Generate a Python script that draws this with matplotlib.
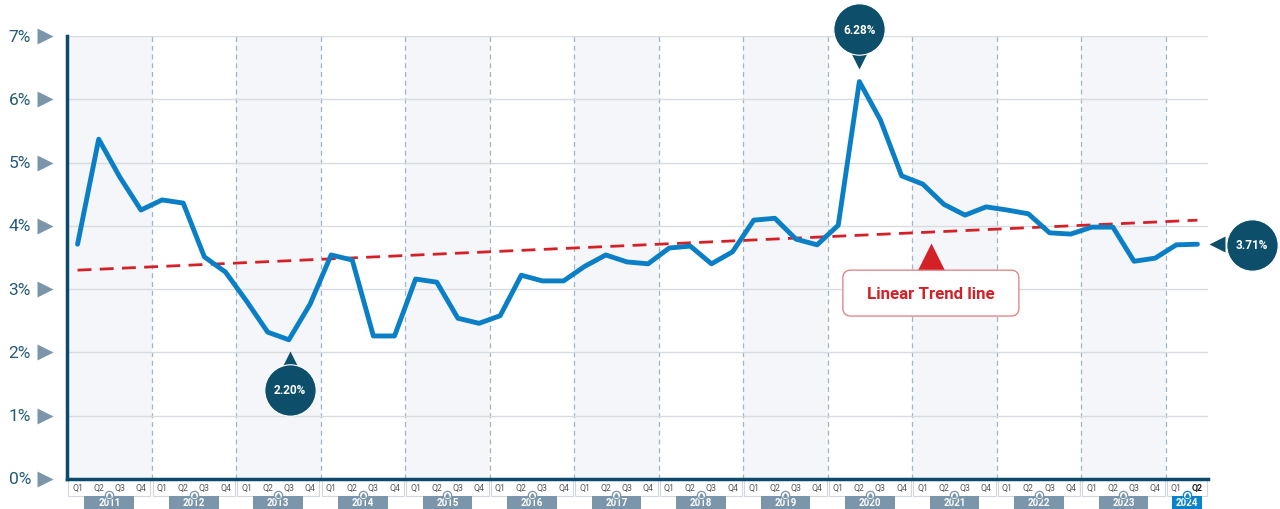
import numpy as np
import matplotlib
matplotlib.use('Agg')
import matplotlib.pyplot as plt
from matplotlib.patches import Rectangle, FancyBboxPatch
from matplotlib.transforms import blended_transform_factory, offset_copy

plt.rcParams['font.family'] = ['Roboto', 'DejaVu Sans']

# quarterly values (%), 2011 Q1 .. 2024 Q2
years = [2011, 2012, 2013, 2014, 2015, 2016, 2017, 2018, 2019, 2020, 2021, 2022, 2023, 2024]
quarters = ['Q1', 'Q2', 'Q3', 'Q4']
values = [
    3.71, 5.37, 4.77, 4.25,
    4.41, 4.36, 3.51, 3.27,
    2.81, 2.32, 2.20, 2.76,
    3.54, 3.46, 2.26, 2.26,
    3.16, 3.11, 2.54, 2.46,
    2.58, 3.22, 3.13, 3.13,
    3.36, 3.54, 3.43, 3.40,
    3.65, 3.68, 3.40, 3.59,
    4.09, 4.12, 3.79, 3.70,
    4.01, 6.28, 5.67, 4.79,
    4.66, 4.34, 4.17, 4.30,
    4.25, 4.19, 3.89, 3.87,
    3.98, 3.98, 3.44, 3.49,
    3.70, 3.71,
]
y_ticks = [0, 1, 2, 3, 4, 5, 6, 7]
trend_start, trend_end = 3.30, 4.09

navy = '#0b4a6c'
blue = '#0a7fc6'
red = '#d42128'
grey_blue = '#7b96ab'
bubble = '#0d4f6b'

x = np.arange(len(values))
fig = plt.figure(figsize=(12.8, 5.1), dpi=100)
ax = fig.add_axes([67 / 1280, 30 / 510, 1141 / 1280, 443 / 510])
ax.set_xlim(-0.5, len(values) - 0.5)
ax.set_ylim(0, 7)

# alternating year bands and dashed separators
for i, yr in enumerate(years):
    x0 = i * 4 - 0.5
    if i % 2 == 0 and yr != 2024:
        ax.axvspan(x0, x0 + 4, color='#f4f6f9', zorder=0, lw=0)
    if i > 0:
        ax.axvline(x0, color='#9fb5c8', lw=0.9, ls=(0, (4, 3)), zorder=1)

for t in y_ticks[1:]:
    ax.axhline(t, color='#d8dce1', lw=1, zorder=1)

# trend line
ax.plot([x[0], x[-1]], [trend_start, trend_end], color=red, lw=2, ls=(0, (5, 3)), zorder=3)
# data line
ax.plot(x, values, color=blue, lw=3.5, solid_joinstyle='round', solid_capstyle='round', zorder=4)

for s in ['top', 'right']:
    ax.spines[s].set_visible(False)
ax.spines['left'].set_color(navy)
ax.spines['left'].set_linewidth(2.5)
ax.spines['bottom'].set_color(navy)
ax.spines['bottom'].set_linewidth(2.5)
ax.set_xticks([])
ax.set_yticks([])

# y labels with triangles
ty = blended_transform_factory(ax.transAxes, ax.transData)
for t in y_ticks:
    ax.text(-0.0315, t, f'{t}%', transform=ty, ha='right', va='center', fontsize=12.5, color='#245b78', clip_on=False)
    ax.plot([-0.0195], [t], marker='>', ms=11, color=grey_blue, mec='none', transform=ty, clip_on=False)

# x axis quarter / year labels
tx = blended_transform_factory(ax.transData, ax.transAxes)
for i, yr in enumerate(years):
    x0 = i * 4 - 0.5
    nq = 4 if yr != 2024 else 2
    ax.add_patch(Rectangle((x0 + 0.05, -0.039), nq - 0.1, 0.039, transform=tx, fill=False,
                           ec='#d3d8de', lw=0.8, clip_on=False))
    for q in range(nq):
        last = (yr == 2024 and q == nq - 1)
        ax.text(i * 4 + q, -0.02, quarters[q], transform=tx, ha='center', va='center', fontsize=6.3,
                color='#222222' if last else '#555555', fontweight='bold' if last else 'normal', clip_on=False)
    xc = x0 + nq / 2
    box_c = '#0a84c8' if yr == 2024 else grey_blue
    bw = 2.35 if yr != 2024 else 1.45
    ax.add_patch(Rectangle((xc - bw / 2, -0.0685), bw, 0.0305, transform=tx, color=box_c, lw=0, clip_on=False))
    ax.text(xc, -0.053, str(yr), transform=tx, ha='center', va='center', fontsize=7,
            color='white', fontweight='bold', clip_on=False)
    ax.plot([xc], [-0.037], marker='o', ms=6, mfc='white', mec=box_c, mew=0.9, transform=tx, clip_on=False, zorder=5)
    ax.plot([xc], [-0.037], marker='^', ms=2.5, color=box_c, transform=tx, clip_on=False, zorder=6)


def bubble_label(xi, yi, text, dx, dy, tri_dx, tri_dy, tri_marker):
    tc = offset_copy(ax.transData, fig=fig, x=dx, y=dy, units='points')
    tt = offset_copy(ax.transData, fig=fig, x=tri_dx, y=tri_dy, units='points')
    ax.plot([xi], [yi], marker=tri_marker, ms=12, color=bubble, mec='none', transform=tt, clip_on=False, zorder=7)
    ax.plot([xi], [yi], marker='o', ms=37, color=bubble, mec='white', mew=0.8, transform=tc, clip_on=False, zorder=8)
    ax.text(xi, yi, text, transform=tc, ha='center', va='center', fontsize=8.5, color='white',
            fontweight='bold', clip_on=False, zorder=9)


i_max = int(np.argmax(values))
i_min = int(np.argmin(values))
bubble_label(i_max, values[i_max], f'{values[i_max]:.2f}%', 0, 37.5, 0, 14.5, 'v')
bubble_label(i_min, values[i_min], f'{values[i_min]:.2f}%', 1, -36, 1, -14, '^')
bubble_label(x[-1], values[-1], f'{values[-1]:.2f}%', 39.5, -0.5, 14, 0, '<')

# trend line callout
ax.plot([40.4], [3.50], marker='^', ms=22, color=red, mec='none', zorder=6)
ax.add_patch(FancyBboxPatch((36.22, 2.575), 8.33, 0.725,
                            boxstyle='round,pad=0,rounding_size=0.38', mutation_aspect=0.334,
                            fc='white', ec='#e07a7e', lw=0.9, zorder=7))
ax.text(40.38, 2.93, 'Linear Trend line', ha='center', va='center', fontsize=12.2, color=red,
        fontweight='bold', zorder=8)

fig.savefig('out.png', dpi=100)
